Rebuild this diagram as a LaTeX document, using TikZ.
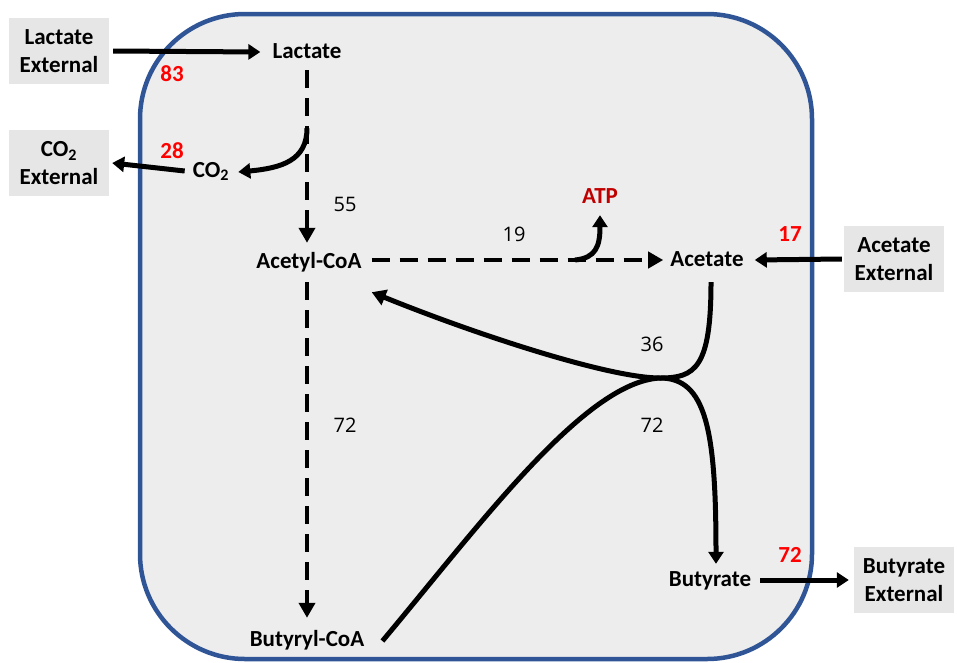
\documentclass[tikz,border=0pt]{standalone}
\usepackage{fontspec}
\setmainfont{Carlito}
\newfontfamily\numfont{Open Sans}
\usetikzlibrary{arrows.meta,calc}
\definecolor{cellfill}{HTML}{EDEDED}
\definecolor{cellborder}{HTML}{2F5597}
\definecolor{extfill}{HTML}{E7E6E6}
\definecolor{fluxred}{HTML}{FF0000}
\definecolor{atpred}{HTML}{C00000}
\tikzset{
  lbl/.style={font=\fontsize{23}{28}\selectfont\bfseries, inner sep=0pt, text height=16pt, text depth=4pt},
  extbox/.style={fill=extfill, font=\fontsize{23}{28}\selectfont\bfseries, align=center,
    minimum width=100pt, minimum height=66pt, inner sep=0pt},
  rednum/.style={font=\fontsize{23}{28}\selectfont\bfseries, text=fluxred, inner sep=0pt},
  num/.style={font=\numfont\fontsize{20}{24}\selectfont, inner sep=0pt},
  arr/.style={line width=5pt, -{Triangle[length=12pt,width=15pt]}},
  darr/.style={line width=4.8pt, dash pattern=on 18pt off 10pt, -{Triangle[length=15pt,width=16pt]}},
  flow/.style={line width=5pt},
}
\begin{document}
\begin{tikzpicture}[x=1pt,y=-1pt]
\useasboundingbox (0,0) rectangle (957,662);
% cell
\draw[fill=cellfill, draw=cellborder, line width=4.5pt, rounded corners=105pt] (140,14) rectangle (812,659);

% external pools
\node[extbox] (lacext) at (59,51) {Lactate\\External};
\node[extbox] (co2ext) at (59,163) {CO\textsubscript{2}\\External};
\node[extbox] (acext) at (894,259) {Acetate\\External};
\node[extbox] (buext) at (904,580) {Butyrate\\External};

% intracellular metabolites
\node[lbl] (lac) at (307,52) {Lactate};
\node[lbl] (co2) at (211,171) {CO\textsubscript{2}};
\node[lbl] (acoa) at (309,262) {Acetyl-CoA};
\node[lbl] (atp) at (600,197) {\textcolor{atpred}{ATP}};
\node[lbl] (ac) at (707,260) {Acetate};
\node[lbl] (bcoa) at (307,640) {Butyryl-CoA};
\node[lbl] (bu) at (710,580) {Butyrate};
\coordinate (jn) at (660,378);

% flux values
\node[rednum] (f83) at (172,74) {83};
\node[rednum] (f28) at (172,151) {28};
\node[rednum] (f17) at (790,234) {17};
\node[rednum] (f72) at (790,555) {72};
\node[num] (n55) at (345,204) {55};
\node[num] (n19) at (514,234) {19};
\node[num] (n36) at (652,344) {36};
\node[num] (n72a) at (652,425) {72};
\node[num] (n72b) at (345,425) {72};

% exchange with the outside
\draw[arr] ([xshift=4pt]lacext.east) -- ([xshift=-12pt]lac.west);
\draw[arr] ([xshift=-8pt]co2.west) -- ([xshift=3pt]co2ext.east);
\draw[arr] ([xshift=-2pt]acext.west) -- ([xshift=11pt]ac.east);
\draw[arr] ([xshift=9pt]bu.east) -- ([xshift=-5pt]buext.west);

% dashed pathway
\draw[darr] ($(lac.south)+(0,8)$) -- ($(lac.south |- acoa.north)+(0,-9)$);
\draw[darr] ($(lac.south |- acoa.south)+(0,10)$) -- ($(lac.south |- bcoa.north)+(0,-12)$);
\draw[darr] ($(acoa.east)+(10,-2)$) -- ($(ac.west)+(-7,0)$);

% decarboxylation
\draw[arr] ($(lac.south)+(0,66)$) .. controls ($(lac.south)+(0,98)$) and (282,168) .. ($(co2.east)+(9,1)$);

% ATP formation
\draw[arr] (575,260) .. controls (596,258) and (600,246) .. ($(atp.south)+(0,8)$);

% acetate uptake into acetyl-CoA
\draw[flow, -{Triangle[length=14pt,width=16pt]}] ($(ac.south)+(4,12)$) .. controls (711,368) and (695,378) .. (jn)
  .. controls (610,378) and (480,336) .. ($(acoa.south east)+(10,20)$);

% butyryl-CoA to butyrate
\draw[arr] ($(bcoa.east)+(18,1)$) .. controls (482,522) and (585,382) .. (jn)
  .. controls (706,378) and (716,430) .. ($(bu.north)+(6,-6)$);
\end{tikzpicture}
\end{document}
